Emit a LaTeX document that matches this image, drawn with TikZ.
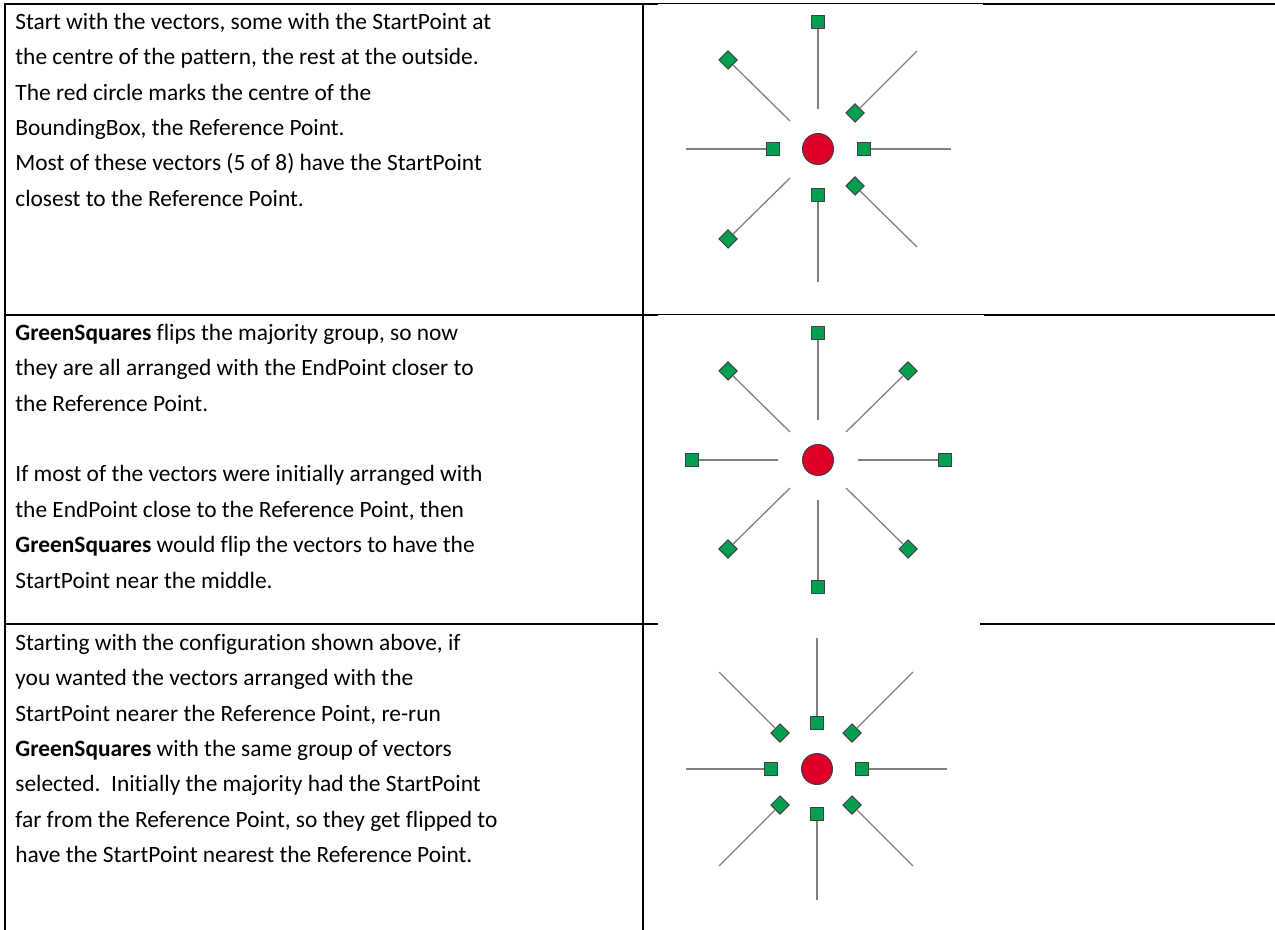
\documentclass[tikz,border=0pt]{standalone}
\usepackage{fontspec}
\setmainfont{Carlito}[Ligatures={NoCommon}]
\definecolor{markgreen}{RGB}{0,160,80}
\definecolor{refred}{RGB}{222,0,40}
\definecolor{edgegray}{RGB}{64,64,64}
\definecolor{vecgray}{RGB}{128,128,128}
\tikzset{
  sq/.style={rectangle,draw=edgegray,fill=markgreen,line width=0.5pt,minimum size=6.4pt,inner sep=0pt},
  dm/.style={sq,rotate=45},
  refpt/.style={circle,draw=edgegray,fill=refred,line width=0.5pt,minimum size=15.5pt,inner sep=0pt},
  vec/.style={draw=vecgray,line width=0.65pt},
  rule/.style={line width=0.9pt},
  thinrule/.style={line width=0.5pt},
  cell/.style={anchor=north west,inner sep=0pt,align=left,font=\fontsize{11.7}{17.7}\selectfont}
}
\begin{document}
\begin{tikzpicture}[x=0.5pt,y=-0.5pt]
\useasboundingbox (0,0) rectangle (1275,930);
\draw[line width=1pt](5,3.5)--(5,930);
\draw[line width=1pt](643,3.5)--(643,930);
\draw[rule](5,4)--(658,4);
\draw[thinrule](658,4)--(983,4);
\draw[rule](983,4)--(1275,4);
\draw[rule](5,315)--(658,315);
\draw[thinrule](658,315)--(984,315);
\draw[rule](984,315)--(1275,315);
\draw[rule](5,624)--(658,624);
\draw[rule](980,624)--(1275,624);
\node[cell] (txt1) at (15,4.2) {\strut Start with the vectors, some with the StartPoint at\\
the centre of the pattern, the rest at the outside.\\
The red circle marks the centre of the\\
BoundingBox, the Reference Point.\\
Most of these vectors (5 of 8) have the StartPoint\\
closest to the Reference Point.};
\node[cell] (txt2) at (15,315.2) {\strut\textbf{GreenSquares} flips the majority group, so now\\
they are all arranged with the EndPoint closer to\\
the Reference Point.\\
\mbox{}\\
If most of the vectors were initially arranged with\\
the EndPoint close to the Reference Point, then\\
\textbf{GreenSquares} would flip the vectors to have the\\
StartPoint near the middle.};
\node[cell] (txt3) at (15,625.2) {\strut Starting with the configuration shown above, if\\
you wanted the vectors arranged with the\\
StartPoint nearer the Reference Point, re-run\\
\textbf{GreenSquares} with the same group of vectors\\
selected.\ \ Initially the majority had the StartPoint\\
far from the Reference Point, so they get flipped to\\
have the StartPoint nearest the Reference Point.};
\node[refpt] (ref1) at (818,149) {};
\node[sq] (a1) at (818,22) {};
\coordinate (a1e) at (818,109);
\node[dm] (a2) at (728,60) {};
\coordinate (a2e) at (790,121);
\node[dm] (a3) at (855,113) {};
\coordinate (a3e) at (917,51);
\node[sq] (a4) at (773,149) {};
\coordinate (a4e) at (686,149);
\node[sq] (a5) at (864,149) {};
\coordinate (a5e) at (951,149);
\node[dm] (a6) at (728,239) {};
\coordinate (a6e) at (790,178);
\node[sq] (a7) at (818,195) {};
\coordinate (a7e) at (818,282);
\node[dm] (a8) at (855,186) {};
\coordinate (a8e) at (917,247);
\draw[vec](a1)--(a1e);
\draw[vec](a2)--(a2e);
\draw[vec](a3)--(a3e);
\draw[vec](a4)--(a4e);
\draw[vec](a5)--(a5e);
\draw[vec](a6)--(a6e);
\draw[vec](a7)--(a7e);
\draw[vec](a8)--(a8e);
\node[refpt] (ref2) at (818,460) {};
\node[sq] (b1) at (818,333) {};
\coordinate (b1e) at (818,420);
\node[dm] (b2) at (728,371) {};
\coordinate (b2e) at (790,432);
\node[dm] (b3) at (908,371) {};
\coordinate (b3e) at (846,432);
\node[sq] (b4) at (692,460) {};
\coordinate (b4e) at (778,460);
\node[sq] (b5) at (945,460) {};
\coordinate (b5e) at (858,460);
\node[dm] (b6) at (728,549) {};
\coordinate (b6e) at (790,488);
\node[sq] (b7) at (818,587) {};
\coordinate (b7e) at (818,500);
\node[dm] (b8) at (908,549) {};
\coordinate (b8e) at (846,488);
\draw[vec](b1)--(b1e);
\draw[vec](b2)--(b2e);
\draw[vec](b3)--(b3e);
\draw[vec](b4)--(b4e);
\draw[vec](b5)--(b5e);
\draw[vec](b6)--(b6e);
\draw[vec](b7)--(b7e);
\draw[vec](b8)--(b8e);
\node[refpt] (ref3) at (817,769) {};
\node[sq] (c1) at (817,723) {};
\coordinate (c1e) at (817,638);
\node[dm] (c2) at (780,733) {};
\coordinate (c2e) at (719,672);
\node[dm] (c3) at (852,733) {};
\coordinate (c3e) at (913,672);
\node[sq] (c4) at (771,769) {};
\coordinate (c4e) at (686,769);
\node[sq] (c5) at (862,769) {};
\coordinate (c5e) at (947,769);
\node[dm] (c6) at (780,805) {};
\coordinate (c6e) at (719,866);
\node[sq] (c7) at (817,814) {};
\coordinate (c7e) at (817,900);
\node[dm] (c8) at (852,805) {};
\coordinate (c8e) at (913,866);
\draw[vec](c1)--(c1e);
\draw[vec](c2)--(c2e);
\draw[vec](c3)--(c3e);
\draw[vec](c4)--(c4e);
\draw[vec](c5)--(c5e);
\draw[vec](c6)--(c6e);
\draw[vec](c7)--(c7e);
\draw[vec](c8)--(c8e);
\end{tikzpicture}
\end{document}
